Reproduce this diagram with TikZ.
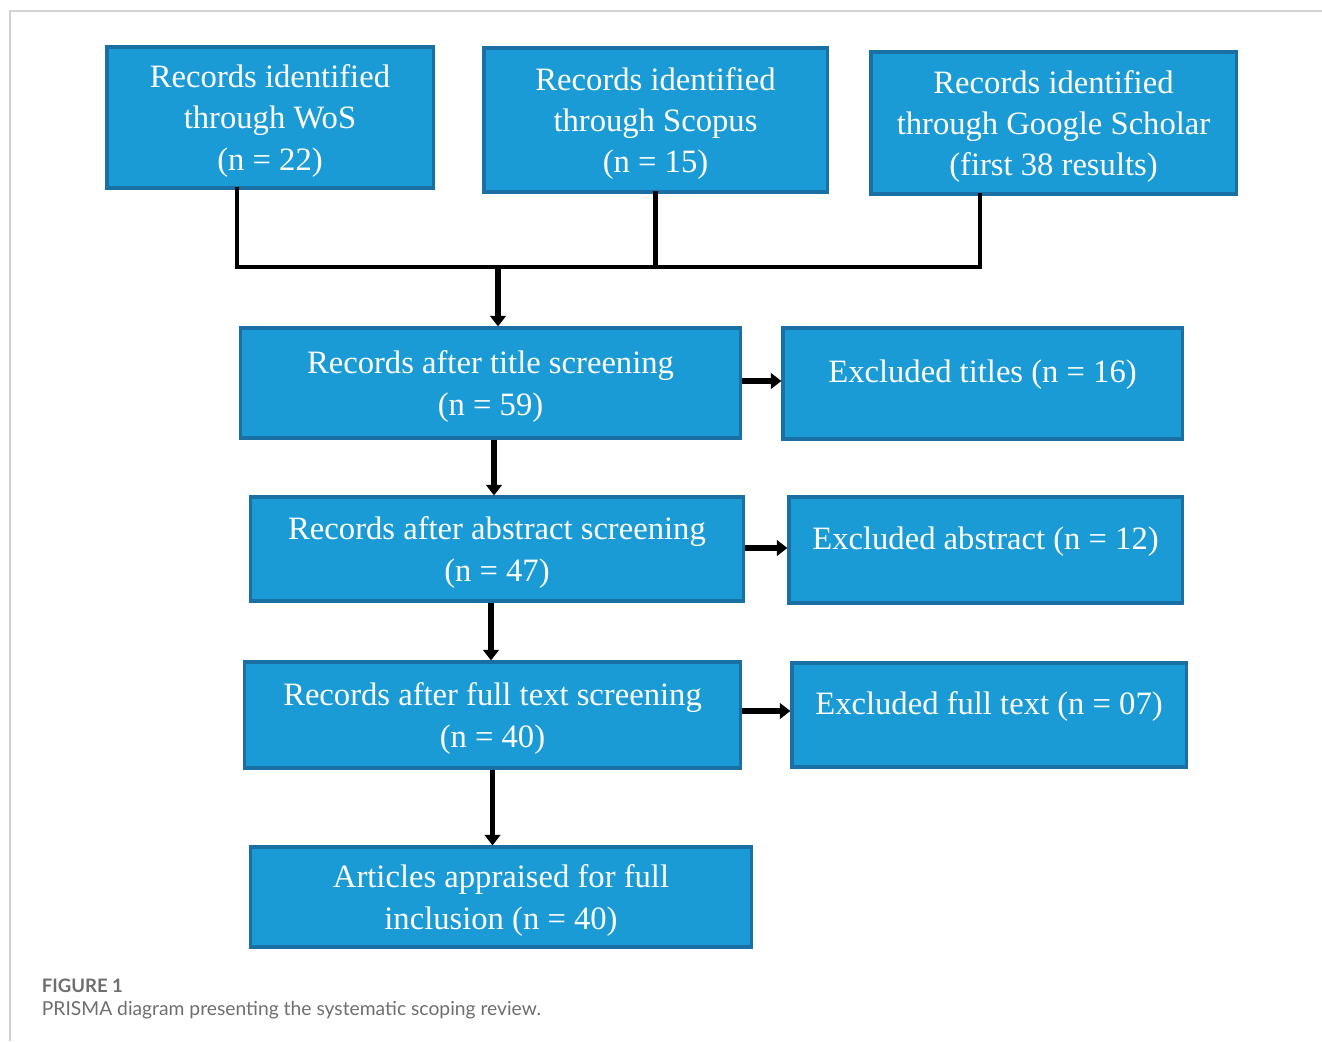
\documentclass[tikz,border=0pt]{standalone}
\usepackage{fontspec}
\setmainfont{Liberation Serif}
\newfontfamily\capfont{Lato}
\usetikzlibrary{arrows.meta, positioning, calc}
\definecolor{cblue}{HTML}{1A9BD6}
\definecolor{cnavy}{HTML}{1A6FA5}
\definecolor{cframe}{HTML}{D2D2D2}
\definecolor{ccap}{HTML}{6E6E6E}
\tikzset{
  every picture/.style={line width=1.2pt},
  box/.style={draw=cnavy, fill=cblue, line width=2.2pt, text=white, align=center, inner sep=0pt, text depth=0pt, font=\fontsize{23.2}{29.2}\selectfont},
  exbox/.style={box, text depth=17.5pt},
  boxsize/.style 2 args={minimum width=#1cm, minimum height=#2cm},
  link/.style={draw=black, line width=3pt, line cap=rect},
  arrow/.style={-{Triangle[length=7.5pt, width=11pt]}, draw=black, line width=4pt},
  caption/.style={font=\capfont\fontsize{13.7}{16}\selectfont, text=ccap, anchor=west, inner sep=0pt},
}

\begin{document}
\begin{tikzpicture}[x=0.025cm, y=-0.025cm]
  \useasboundingbox (0,0) rectangle (1322,1041);
  % page frame
  \draw[cframe, line width=1pt] (10,1041) -- (10,11) -- (1322,11);
  % sources
  \node[box, boxsize={8.15}{3.525}] (wos) at (270,117.5) {Records identified\\through WoS\\(n = 22)};
  \node[box, boxsize={8.575}{3.6}] (scopus) at (655.5,120) {Records identified\\through Scopus\\(n = 15)};
  \node[box, boxsize={9.125}{3.55}] (gscholar) at (1053.5,123) {Records identified\\through Google Scholar\\(first 38 results)};
  % screening steps
  \node[box, boxsize={12.475}{2.75}] (title) at (490.5,383) {Records after title screening\\(n = 59)};
  \node[exbox, boxsize={9.975}{2.775}] (extitle) at (982.5,383.5) {Excluded titles (n = 16)};
  \node[box, boxsize={12.3}{2.6}] (abstract) at (497,549) {Records after abstract screening\\(n = 47)};
  \node[exbox, boxsize={9.825}{2.65}] (exabstract) at (985.5,550) {Excluded abstract (n = 12)};
  \node[box, boxsize={12.375}{2.65}] (fulltext) at (492.5,715) {Records after full text screening\\(n = 40)};
  \node[exbox, boxsize={9.85}{2.6}] (exfull) at (989,715) {Excluded full text (n = 07)};
  \node[box, boxsize={12.5}{2.5}] (articles) at (501,897) {Articles appraised for full\\inclusion (n = 40)};
  % merge of the three sources
  \coordinate (merge) at (498,267);
  \coordinate (wosdrop) at ($(wos.south)+(-33,0)$);
  \coordinate (gsdrop) at ($(gscholar.south)+(-73.5,0)$);
  \draw[link] (wosdrop) |- (merge) -| (gsdrop);
  \draw[link] (scopus.south) -- (scopus.south |- merge);
  \draw[arrow] (merge) -- (title.north -| merge);
  % flow down
  \coordinate (titleout) at ($(title.south)+(3.5,0)$);
  \coordinate (abstractout) at ($(abstract.south)+(-6,0)$);
  \draw[arrow] (titleout) -- (titleout |- abstract.north);
  \draw[arrow] (abstractout) -- (abstractout |- fulltext.north);
  \draw[arrow] (fulltext.south) -- (fulltext.south |- articles.north);
  % exclusions
  \coordinate (titleside) at ($(title.east)+(0,-2)$);
  \coordinate (abstractside) at ($(abstract.east)+(0,-1)$);
  \coordinate (fulltextside) at ($(fulltext.east)+(0,-4)$);
  \draw[arrow] (titleside) -- (titleside -| extitle.west);
  \draw[arrow] (abstractside) -- (abstractside -| exabstract.west);
  \draw[arrow] (fulltextside) -- (fulltextside -| exfull.west);
  % caption
  \node[caption, font=\capfont\bfseries\fontsize{13.2}{16}\selectfont] (figno) at (41,986) {FIGURE 1};
  \node[caption] (figtext) at (41,1010) {PRISMA diagram presenting the systematic scoping review.};
\end{tikzpicture}
\end{document}
